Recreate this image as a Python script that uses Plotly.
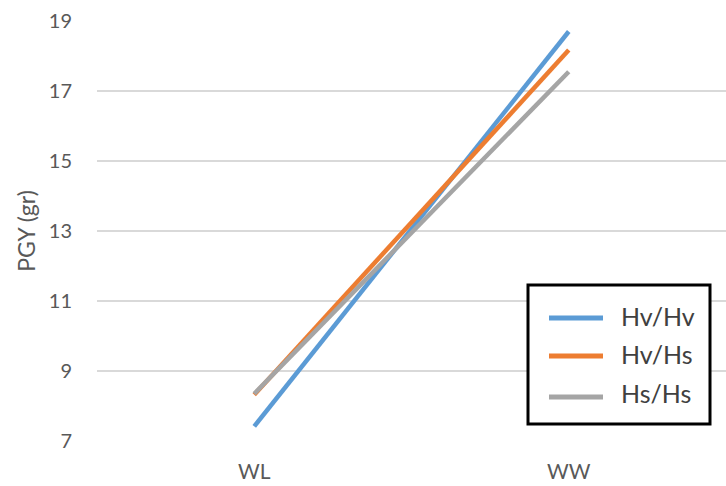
import plotly.graph_objects as go

# Pot grain yield per treatment
categories = ["WL", "WW"]
series_names = ["Hv/Hv", "Hv/Hs", "Hs/Hs"]
hv_hv = [7.42, 18.7]
hv_hs = [8.32, 18.17]
hs_hs = [8.35, 17.55]
series_values = [hv_hv, hv_hs, hs_hs]
y_ticks = [7, 9, 11, 13, 15, 17, 19]

colors = ["#5B9BD5", "#ED7D31", "#A5A5A5"]

W, H = 726, 486
L, R, T, B = 97, 0, 21, 45
pw, ph = W - L - R, H - T - B


def px_x(px):
    return (px - L) / pw


def px_y(py):
    return (H - B - py) / ph


fig = go.Figure()
for name, vals, col in zip(series_names, series_values, colors):
    fig.add_trace(go.Scatter(
        x=categories, y=vals, name=name, mode="lines",
        line=dict(color=col, width=4.5), showlegend=False,
    ))

# Boxed legend in the lower right
shapes = [dict(type="rect", xref="paper", yref="paper",
               x0=px_x(528), x1=px_x(710), y0=px_y(424), y1=px_y(285),
               line=dict(color="black", width=3), fillcolor="white", layer="above")]
annotations = []
row_y = [318, 356, 397]
text_y = [316, 354, 393]
for name, col, ly, ty in zip(series_names, colors, row_y, text_y):
    shapes.append(dict(type="line", xref="paper", yref="paper",
                       x0=px_x(549), x1=px_x(603), y0=px_y(ly), y1=px_y(ly),
                       line=dict(color=col, width=5), layer="above"))
    annotations.append(dict(xref="paper", yref="paper", x=px_x(619), y=px_y(ty),
                            xanchor="left", yanchor="middle", text=name, showarrow=False,
                            font=dict(family="Lato, Open Sans, sans-serif", size=25, color="#404040")))

fig.update_layout(
    width=W, height=H,
    margin=dict(l=L, r=R, t=T, b=B),
    paper_bgcolor="white", plot_bgcolor="white",
    font=dict(family="Lato, Open Sans, sans-serif", color="#595959"),
    shapes=shapes, annotations=annotations,
    xaxis=dict(
        type="category", showgrid=False, zeroline=False, showline=False,
        tickfont=dict(size=21, color="#595959"), ticklabelstandoff=16,
        range=[-0.5, 1.5],
    ),
    yaxis=dict(
        range=[7, 19], tickvals=y_ticks, showgrid=True, gridcolor="#D9D9D9",
        gridwidth=1.5, zeroline=False, showline=False,
        tickfont=dict(size=20, color="#595959"), ticklabelstandoff=24,
        title=dict(text="PGY (gr)", font=dict(size=23, color="#595959"), standoff=6),
    ),
)

fig.write_html("out.html")
